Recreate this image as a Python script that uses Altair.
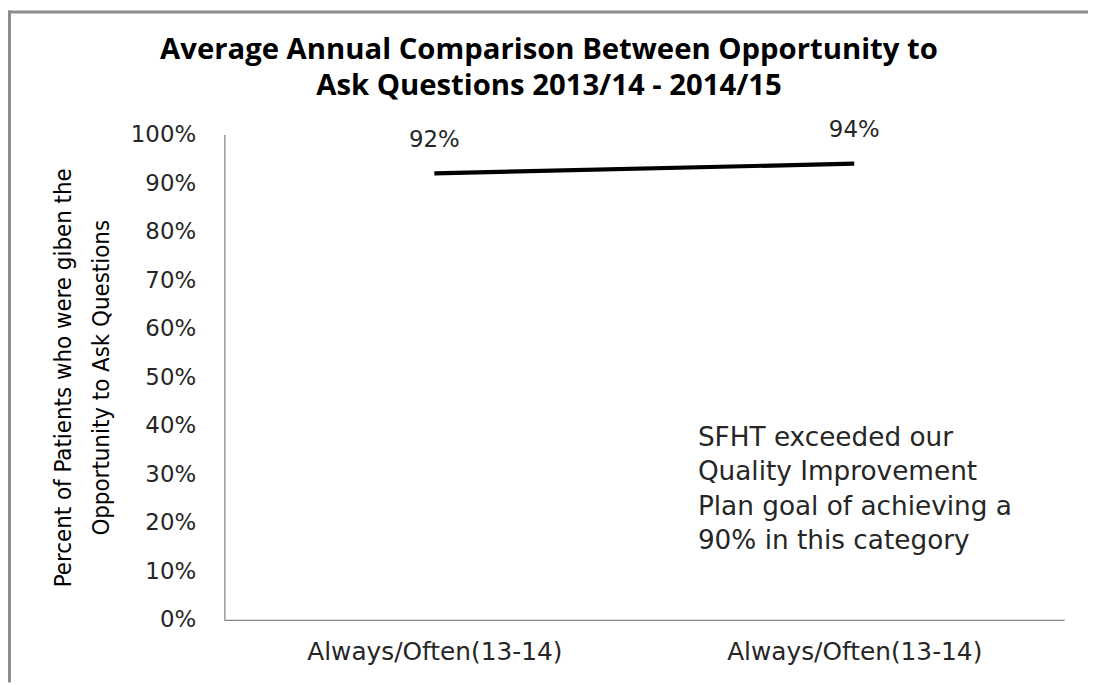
import altair as alt
import pandas as pd

# ---- data ----
periods = ["2013/14", "2014/15"]
tick_labels = ["Always/Often(13-14)", "Always/Often(13-14)"]
values = [0.92, 0.94]

title_lines = ["Average Annual  Comparison  Between Opportunity to",
               "Ask Questions 2013/14 - 2014/15"]
y_title_lines = ["Percent of Patients who were giben the",
                 "Opportunity to Ask Questions"]
note_lines = ["SFHT exceeded our", "Quality Improvement",
              "Plan goal of achieving a", "90% in this category"]

df = pd.DataFrame({"period": periods, "value": values})

W, H = 846, 489
PAD = {"left": 218, "top": 125, "right": 24, "bottom": 63}
FONT = "DejaVu Sans"
NARROW = "Liberation Sans Narrow, DejaVu Sans Condensed, Arial Narrow, DejaVu Sans"
TITLE_FONT = "Open Sans, DejaVu Sans"

label_map = "{" + ",".join(f"'{p}':'{l}'" for p, l in zip(periods, tick_labels)) + "}"
xscale = alt.Scale(type="point", domain=periods, padding=0.5)

x_enc = alt.X("period:N", scale=xscale,
              axis=alt.Axis(title=None, labelExpr=f"{label_map}[datum.value]",
                            labelAngle=0, ticks=False, domainColor="#868686",
                            domainWidth=1.3, labelFont=FONT, labelFontSize=25,
                            labelColor="#262626", labelPadding=20, labelLimit=0))
y_enc = alt.Y("value:Q",
              scale=alt.Scale(domain=[0, 1], nice=False, zero=True),
              axis=alt.Axis(values=[i / 10 for i in range(11)], format=".0%",
                            grid=False, ticks=False, domainColor="#868686",
                            domainWidth=1.3, labelFont=FONT, labelFontSize=23,
                            labelColor="#262626", labelPadding=29,
                            title=y_title_lines, titleFont=NARROW,
                            titleFontSize=24, titleFontWeight="normal",
                            titleColor="black", titleLineHeight=38,
                            titleAngle=-90, titleAlign="center",
                            titleBaseline="middle", titleX=-162, titleY=244.5))

base = alt.Chart(df)

line = base.mark_line(color="black", strokeWidth=4.2, strokeCap="butt").encode(x=x_enc, y=y_enc)

labels = base.mark_text(dy=-34, fontSize=23, font=FONT, color="#262626").encode(
    x=alt.X("period:N", scale=xscale),
    y="value:Q",
    text=alt.Text("value:Q", format=".0%"),
)

one = pd.DataFrame({"k": [0]})

note = alt.Chart(one).mark_text(
    align="left", baseline="alphabetic", fontSize=26.5, font=FONT,
    color="#262626", lineHeight=34.5
).encode(x=alt.value(477), y=alt.value(314), text=alt.value(note_lines))

title = alt.Chart(one).mark_text(
    align="center", baseline="alphabetic", fontSize=29.5, font=TITLE_FONT,
    fontWeight="bold", color="black", lineHeight=36
).encode(x=alt.value(327), y=alt.value(-76), text=alt.value(title_lines))

frame_top = alt.Chart(one).mark_rule(
    color="#8e8e8e", strokeWidth=3
).encode(x=alt.value(-PAD["left"]), x2=alt.value(W + PAD["right"]),
         y=alt.value(-PAD["top"] + 1.5))
frame_left = alt.Chart(one).mark_rule(
    color="#8e8e8e", strokeWidth=3
).encode(x=alt.value(-PAD["left"] + 1.5), y=alt.value(-PAD["top"]),
         y2=alt.value(H + PAD["bottom"]))

chart = alt.layer(line, labels, note, title, frame_top, frame_left).properties(
    width=W, height=H,
    autosize=alt.AutoSizeParams(type="none"),
    padding=PAD,
    background="white",
).configure_view(stroke=None)

chart.save("out.html", embed_options={"renderer": "svg", "actions": False})
